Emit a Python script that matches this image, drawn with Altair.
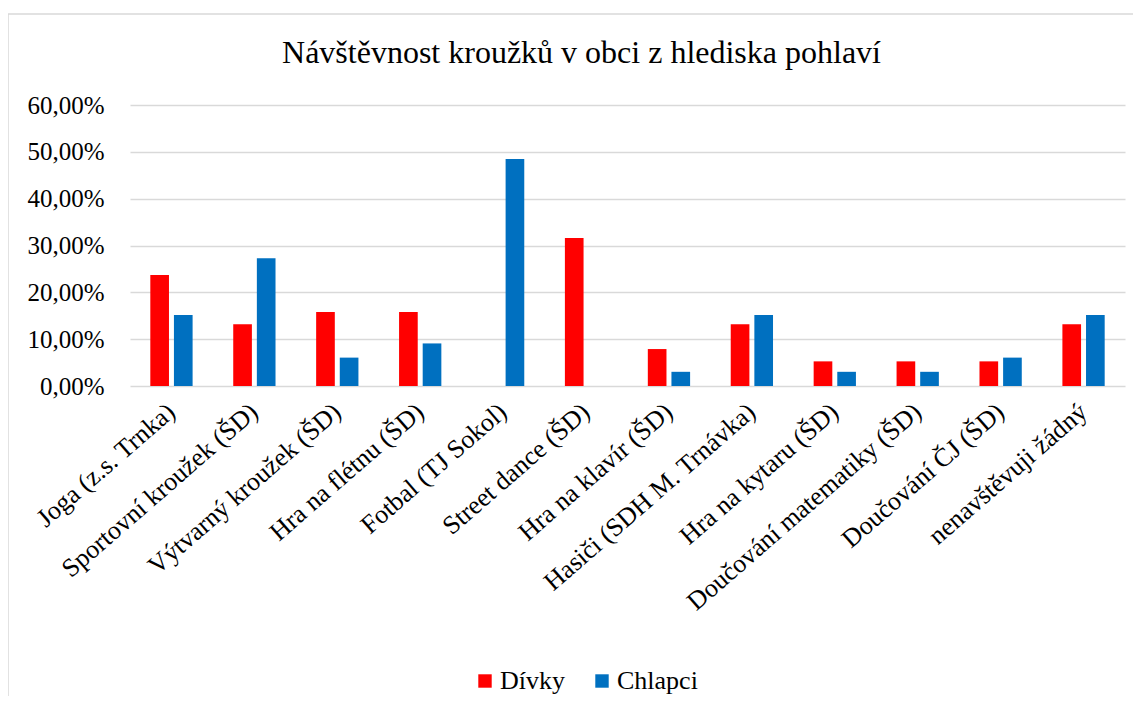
import altair as alt
import pandas as pd

categories = [
    "Joga (z.s. Trnka)",
    "Sportovní kroužek (ŠD)",
    "Výtvarný kroužek (ŠD)",
    "Hra na flétnu (ŠD)",
    "Fotbal (TJ Sokol)",
    "Street dance (ŠD)",
    "Hra na klavír (ŠD)",
    "Hasiči (SDH M. Trnávka)",
    "Hra na kytaru (ŠD)",
    "Doučování matematiky (ŠD)",
    "Doučování ČJ (ŠD)",
    "nenavštěvuji žádný",
]
divky = [0.2368, 0.1316, 0.1579, 0.1579, 0.0, 0.3158, 0.0789, 0.1316, 0.0526, 0.0526, 0.0526, 0.1316]
chlapci = [0.1515, 0.2727, 0.0606, 0.0909, 0.4848, 0.0, 0.0303, 0.1515, 0.0303, 0.0303, 0.0606, 0.1515]
series = ["Dívky", "Chlapci"]
colors = ["#FF0000", "#0070C0"]
y_ticks = [0, 0.1, 0.2, 0.3, 0.4, 0.5, 0.6]
title_text = "Návštěvnost kroužků v obci z hlediska pohlaví"

rows = []
for c, d, ch in zip(categories, divky, chlapci):
    rows.append({"kat": c, "pohlavi": series[0], "hodnota": d})
    rows.append({"kat": c, "pohlavi": series[1], "hodnota": ch})
df = pd.DataFrame(rows)

FONT = "Liberation Serif"
W, H = 995, 281

bars = alt.Chart(df).mark_bar().encode(
    x=alt.X(
        "kat:N",
        sort=categories,
        scale=alt.Scale(paddingInner=0.49, paddingOuter=0.245),
        axis=alt.Axis(
            title=None, labelAngle=-41, labelAlign="right", labelBaseline="middle",
            labelPadding=22, labelLimit=500, domain=False, ticks=False,
            labelFont=FONT, labelFontSize=26, labelColor="#000000",
        ),
    ),
    xOffset=alt.XOffset("pohlavi:N", sort=series, scale=alt.Scale(paddingInner=0.21, paddingOuter=0)),
    y=alt.Y(
        "hodnota:Q",
        scale=alt.Scale(domain=[0, 0.6], nice=False),
        axis=alt.Axis(
            title=None, values=y_ticks, grid=True, domain=False, ticks=False,
            labelPadding=26, labelFont=FONT, labelFontSize=25, labelColor="#000000",
            gridColor="#D9D9D9", gridWidth=1.5,
            labelExpr="replace(format(datum.value, '.2%'), '.', ',')",
        ),
    ),
    color=alt.Color(
        "pohlavi:N",
        sort=series,
        scale=alt.Scale(domain=series, range=colors),
        legend=alt.Legend(
            title=None, orient="none", direction="horizontal",
            legendX=342, legendY=563, symbolType="square", symbolSize=180,
            symbolStrokeWidth=0, labelOffset=2, columnPadding=24,
            labelFontSize=26, labelFont=FONT, labelColor="#000000",
        ),
    ),
)

frame_df = pd.DataFrame({"a": [0]})
frame_left = alt.Chart(frame_df).mark_rule(color="#D9D9D9", strokeWidth=1.5).encode(
    x=alt.value(-122), y=alt.value(-91), y2=alt.value(H + 310)
)
frame_top = alt.Chart(frame_df).mark_rule(color="#D9D9D9", strokeWidth=1.5).encode(
    x=alt.value(-122), x2=alt.value(W + 8), y=alt.value(-91)
)

chart = (
    alt.layer(frame_left, frame_top, bars)
    .properties(
        width=W,
        height=H,
        background="#FFFFFF",
        padding={"left": 122, "top": 97, "right": 8, "bottom": 310},
        autosize=alt.AutoSizeParams(type="none"),
        title=alt.TitleParams(
            text=title_text, font=FONT, fontSize=32, fontWeight="normal",
            color="#000000", anchor="middle", frame="group", dx=-46,
            baseline="alphabetic", offset=0, dy=82,
        ),
    )
    .configure(font=FONT)
    .configure_view(stroke=None)
    .configure_legend(labelFont=FONT, labelFontSize=26, labelColor="#000000")
)

chart.save("out.html", embed_options={"renderer": "svg", "actions": False})
